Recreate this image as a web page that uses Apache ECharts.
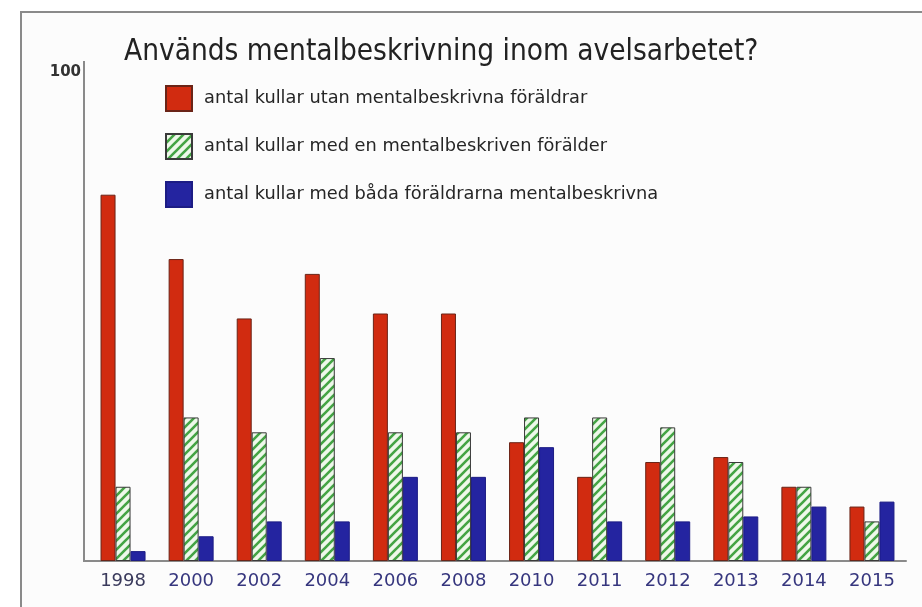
<!DOCTYPE html>
<html>
<head>
<meta charset="utf-8">
<script src="https://cdn.jsdelivr.net/npm/echarts@6/dist/echarts.min.js"></script>
<style>
  html, body { margin: 0; padding: 0; background: #ffffff; }
  #chart { width: 922px; height: 607px; }
</style>
</head>
<body>
<div id="chart"></div>
<script>
// years on the x axis
const years = ['1998', '2000', '2002', '2004', '2006', '2008', '2010', '2011', '2012', '2013', '2014', '2015'];
// number of litters
const utanValues = [74, 61, 49, 58, 50, 50, 24, 17, 20, 21, 15, 11];
const enValues = [15, 29, 26, 41, 26, 26, 29, 29, 27, 20, 15, 8];
const badaValues = [2, 5, 8, 8, 17, 17, 23, 8, 8, 9, 11, 12];
const seriesNames = [
    'antal kullar utan mentalbeskrivna föräldrar',
    'antal kullar med en mentalbeskriven förälder',
    'antal kullar med båda föräldrarna mentalbeskrivna'
];
const yTicks = [0, 100];

// striped fill for the middle series
function makeHatch() {
    const c = document.createElement('canvas');
    c.width = 9;
    c.height = 9;
    const ctx = c.getContext('2d');
    ctx.fillStyle = '#eef8ea';
    ctx.fillRect(0, 0, 9, 9);
    ctx.strokeStyle = '#44a444';
    ctx.lineWidth = 2.6;
    ctx.beginPath();
    ctx.moveTo(-2, 11); ctx.lineTo(11, -2);
    ctx.moveTo(-6.5, 6.5); ctx.lineTo(6.5, -6.5);
    ctx.moveTo(2.5, 15.5); ctx.lineTo(15.5, 2.5);
    ctx.stroke();
    return c;
}

const chart = echarts.init(document.getElementById('chart'));
const font = 'DejaVu Sans';

chart.setOption({
    backgroundColor: '#ffffff',
    animation: false,
    title: {
        text: 'Används mentalbeskrivning inom avelsarbetet?',
        left: 124,
        top: 37,
        padding: 0,
        textStyle: {
            fontFamily: 'DejaVu Sans Condensed',
            fontSize: 29.5,
            fontWeight: 'normal',
            color: '#222222'
        }
    },
    legend: {
        orient: 'vertical',
        left: 165,
        top: 85,
        padding: 0,
        itemWidth: 26,
        itemHeight: 25,
        itemGap: 21,
        icon: 'rect',
        selectedMode: false,
        textStyle: {
            fontFamily: font,
            fontSize: 17.8,
            color: '#262626',
            padding: [0, 0, 0, 7]
        },
        data: seriesNames
    },
    graphic: [
        {
            type: 'rect',
            shape: { x: 21, y: 12, width: 960, height: 700 },
            style: { fill: '#fcfcfc', stroke: '#8a8a8a', lineWidth: 2 },
            z: -10,
            silent: true
        },
        {
            type: 'line',
            shape: { x1: 83, y1: 561, x2: 90, y2: 561 },
            style: { stroke: '#8a8a8a', lineWidth: 2 },
            silent: true
        },
        {
            type: 'line',
            shape: { x1: 84, y1: 61, x2: 84, y2: 67 },
            style: { stroke: '#8a8a8a', lineWidth: 2 },
            silent: true
        }
    ],
    grid: {
        left: 89,
        right: 16,
        top: 66,
        bottom: 46
    },
    xAxis: {
        type: 'category',
        data: years,
        boundaryGap: true,
        axisLine: { lineStyle: { color: '#8a8a8a', width: 2 } },
        axisTick: { show: false },
        axisLabel: {
            margin: 11,
            fontFamily: font,
            fontSize: 18,
            color: function (v, i) { return i === 0 ? '#3a3a5c' : '#36367e'; }
        }
    },
    yAxis: {
        type: 'value',
        min: yTicks[0],
        max: yTicks[1],
        interval: 100,
        offset: 5,
        splitLine: { show: false },
        axisLine: { show: true, lineStyle: { color: '#8a8a8a', width: 2 } },
        axisTick: { show: false },
        axisLabel: {
            margin: 3,
            fontFamily: font,
            fontSize: 15,
            fontWeight: 'bold',
            color: '#333333',
            verticalAlign: 'top',
            lineHeight: 13,
            formatter: function (v) { return v === 100 ? '100' : ''; }
        }
    },
    series: [
        {
            name: seriesNames[0],
            type: 'bar',
            data: utanValues,
            barWidth: 15,
            barGap: '0%',
            itemStyle: { color: '#d12b10', borderColor: '#6a2417', borderWidth: 1 }
        },
        {
            name: seriesNames[1],
            type: 'bar',
            data: enValues,
            barWidth: 15,
            barGap: '0%',
            itemStyle: {
                color: { image: makeHatch(), repeat: 'repeat' },
                borderColor: '#3a3a3a',
                borderWidth: 1
            }
        },
        {
            name: seriesNames[2],
            type: 'bar',
            data: badaValues,
            barWidth: 15,
            barGap: '0%',
            itemStyle: { color: '#2424a0', borderColor: '#1c1c84', borderWidth: 1 }
        }
    ]
});
</script>
</body>
</html>
